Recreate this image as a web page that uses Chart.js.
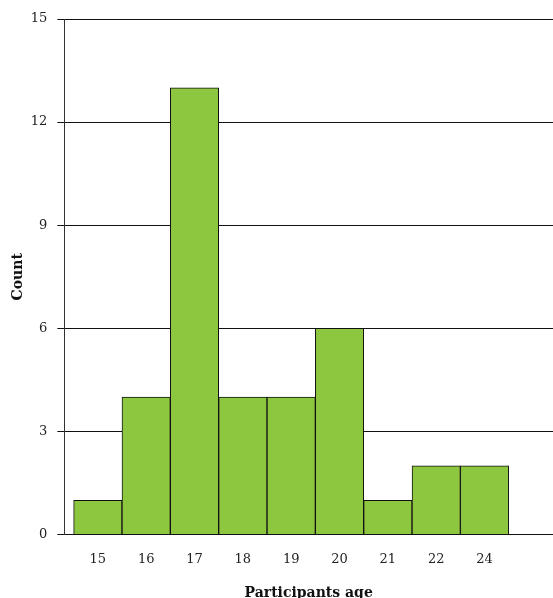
<!DOCTYPE html>
<html>
<head>
<meta charset="utf-8">
<script src="https://cdn.jsdelivr.net/npm/chart.js@4"></script>
<style>
  html, body { margin: 0; padding: 0; background: #fff; }
  #wrap { width: 553px; height: 598px; }
</style>
</head>
<body>
<div id="wrap"><canvas id="age-chart" width="553" height="598"></canvas></div>
<script>
const ageLabels = ['15', '16', '17', '18', '19', '20', '21', '22', '24'];
const ageCounts = [1, 4, 13, 4, 4, 6, 1, 2, 2];
const yTicks = [0, 3, 6, 9, 12, 15];

const fontFamily = "'DejaVu Serif', serif";

const ctx = document.getElementById('age-chart').getContext('2d');

const chartData = {
  datasets: [
    {
      data: ageCounts.map((c, i) => ({ x: i, y: c })),
      backgroundColor: '#8dc63f',
      borderColor: '#111',
      borderWidth: 1,
      barPercentage: 1,
      categoryPercentage: 1
    }
  ]
};

const config = {
  type: 'bar',
  data: chartData,
  options: {
    responsive: false,
    animation: false,
    layout: { padding: { top: 19, right: 0, left: 10, bottom: -8 } },
    scales: {
      x: {
        type: 'linear',
        offset: false,
        min: -0.6925,
        max: 9.416,
        afterBuildTicks: (scale) => {
          scale.ticks = ageLabels.map((_, i) => ({ value: i }));
        },
        ticks: {
          callback: (v) => ageLabels[v],
          color: '#222',
          padding: 9,
          maxRotation: 0,
          font: { family: fontFamily, size: 13 }
        },
        grid: { display: false },
        border: { display: false },
        title: {
          display: true,
          text: 'Participants age',
          color: '#111',
          padding: { top: 9 },
          font: { family: fontFamily, size: 14, weight: 'bold' }
        }
      },
      y: {
        min: 0,
        max: 15,
        afterBuildTicks: (scale) => {
          scale.ticks = yTicks.map(v => ({ value: v }));
        },
        ticks: {
          color: '#222',
          padding: 10,
          font: { family: fontFamily, size: 13 }
        },
        grid: { color: '#111', lineWidth: 1, tickLength: 7 },
        border: { display: true, color: '#333', width: 1 },
        title: {
          display: true,
          text: 'Count',
          color: '#111',
          padding: { top: 0, bottom: -6 },
          font: { family: fontFamily, size: 14, weight: 'bold' }
        }
      }
    },
    plugins: {
      legend: { display: false },
      tooltip: { enabled: false }
    }
  }
};

const ageChart = new Chart(ctx, config);
</script>
</body>
</html>
